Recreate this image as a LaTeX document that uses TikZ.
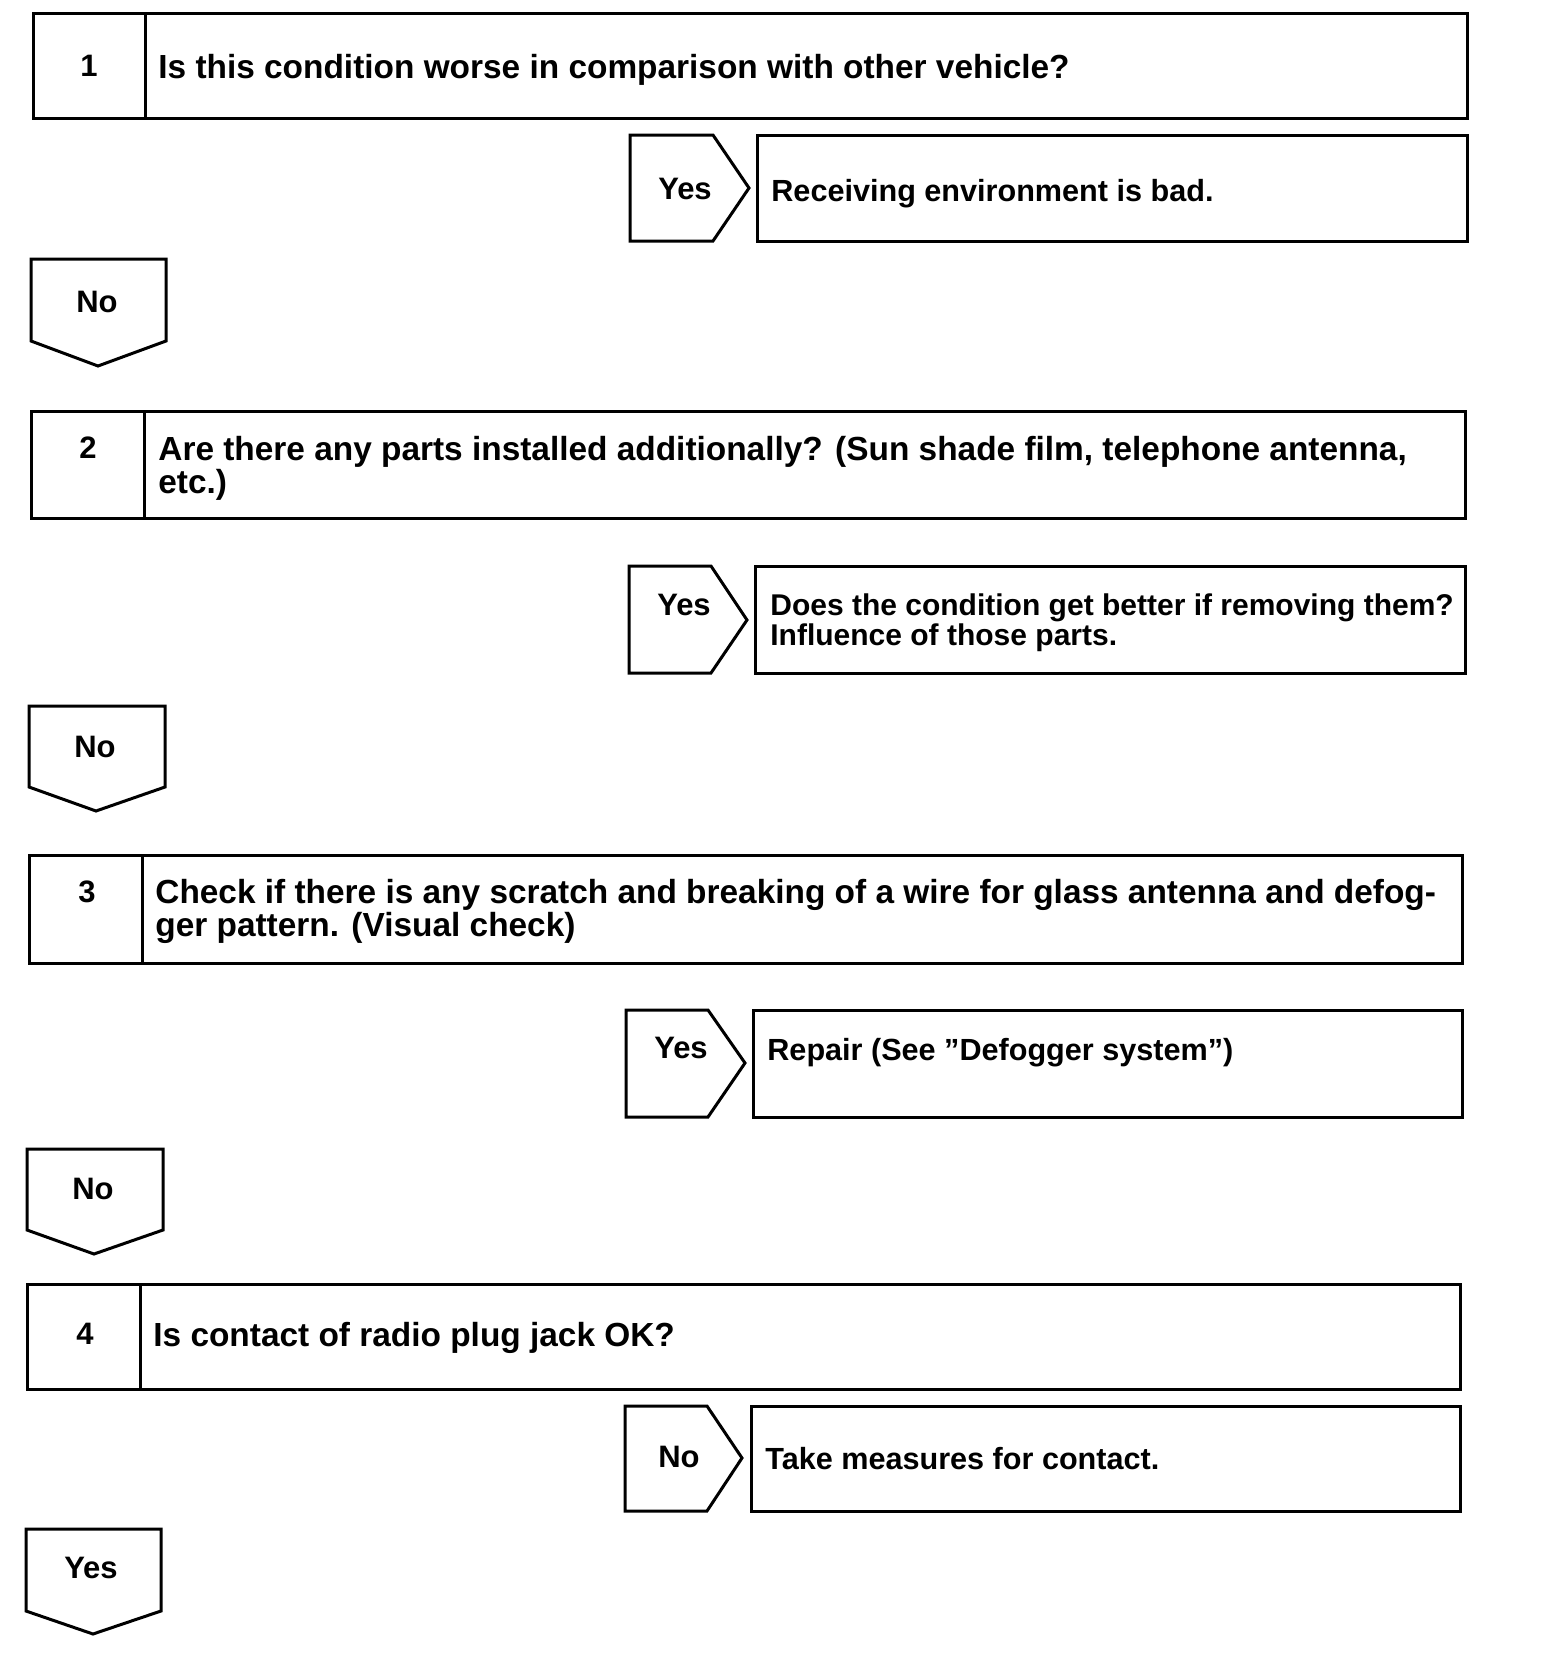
\documentclass[tikz,border=0pt]{standalone}
\usepackage{fontspec}
\setmainfont{Liberation Sans}
\begin{document}
\begin{tikzpicture}[
    x=0.5pt, y=-0.5pt,
    frame/.style={draw=black, line width=1.5pt, line join=miter},
    txt/.style={anchor=west, align=left, inner sep=0pt, text depth=0.22em,
      font=\fontsize{16.7}{16.5}\selectfont\bfseries},
    res/.style={txt, font=\fontsize{15.3}{15.2}\selectfont\bfseries},
    num/.style={anchor=center, inner sep=0pt,
      font=\fontsize{15.5}{16.5}\selectfont\bfseries},
  ]
  \useasboundingbox (0,0) rectangle (1568,1672);

  % step 1
  \draw[frame] (33,13) rectangle (1467,118);
  \draw[frame] (145,13) -- (145,118);
  \node[num] (n1) at (89,66) {1};
  \node[txt] (q1) at (158,69) {Is this condition worse in comparison with other vehicle?};
  \draw[frame] (630,135) -- (713,135) -- (749,188) -- (713,241) -- (630,241) -- cycle;
  \node[num] (yes1) at (685,189) {Yes};
  \draw[frame] (757,135) rectangle (1467,241);
  \node[res] (r1) at (771,193) {Receiving environment is bad.};
  \draw[frame] (31,259) -- (166,259) -- (166,341) -- (98,366) -- (31,341) -- cycle;
  \node[num] (no1) at (97,302) {No};

  % step 2
  \draw[frame] (31,411) rectangle (1465,518);
  \draw[frame] (144,411) -- (144,518);
  \node[num] (n2) at (88,448) {2};
  \node[txt] (q2) at (158,467) {Are there any parts installed additionally? (Sun shade film, telephone antenna,\\etc.)};
  \draw[frame] (629,566) -- (711,566) -- (747,620) -- (711,673) -- (629,673) -- cycle;
  \node[num] (yes2) at (684,605) {Yes};
  \draw[frame] (755,566) rectangle (1465,673);
  \node[res, font=\fontsize{15}{15.2}\selectfont\bfseries] (r2) at (770,622)
    {Does the condition get better if removing them?\\Influence of those parts.};
  \draw[frame] (29,706) -- (165,706) -- (165,787) -- (96,811) -- (29,787) -- cycle;
  \node[num] (no2) at (95,747) {No};

  % step 3
  \draw[frame] (29,855) rectangle (1462,963);
  \draw[frame] (142,855) -- (142,963);
  \node[num] (n3) at (87,892) {3};
  \node[txt] (q3) at (155,910) {Check if there is any scratch and breaking of a wire for glass antenna and defog-\\ger pattern. (Visual check)};
  \draw[frame] (626,1010) -- (708,1010) -- (745,1063) -- (708,1117) -- (626,1117) -- cycle;
  \node[num] (yes3) at (681,1048) {Yes};
  \draw[frame] (753,1010) rectangle (1462,1117);
  \node[res] (r3) at (767,1052) {Repair (See ''Defogger system'')};
  \draw[frame] (27,1149) -- (163,1149) -- (163,1230) -- (94,1254) -- (27,1230) -- cycle;
  \node[num] (no3) at (93,1189) {No};

  % step 4
  \draw[frame] (27,1284) rectangle (1460,1389);
  \draw[frame] (140,1284) -- (140,1389);
  \node[num] (n4) at (85,1334) {4};
  \node[txt] (q4) at (153,1337) {Is contact of radio plug jack OK?};
  \draw[frame] (625,1406) -- (707,1406) -- (742,1458) -- (707,1511) -- (625,1511) -- cycle;
  \node[num] (no4) at (679,1457) {No};
  \draw[frame] (751,1406) rectangle (1460,1511);
  \node[res] (r4) at (765,1461) {Take measures for contact.};
  \draw[frame] (26,1529) -- (161,1529) -- (161,1611) -- (93,1634) -- (26,1611) -- cycle;
  \node[num] (yes4) at (91,1568) {Yes};
\end{tikzpicture}
\end{document}
